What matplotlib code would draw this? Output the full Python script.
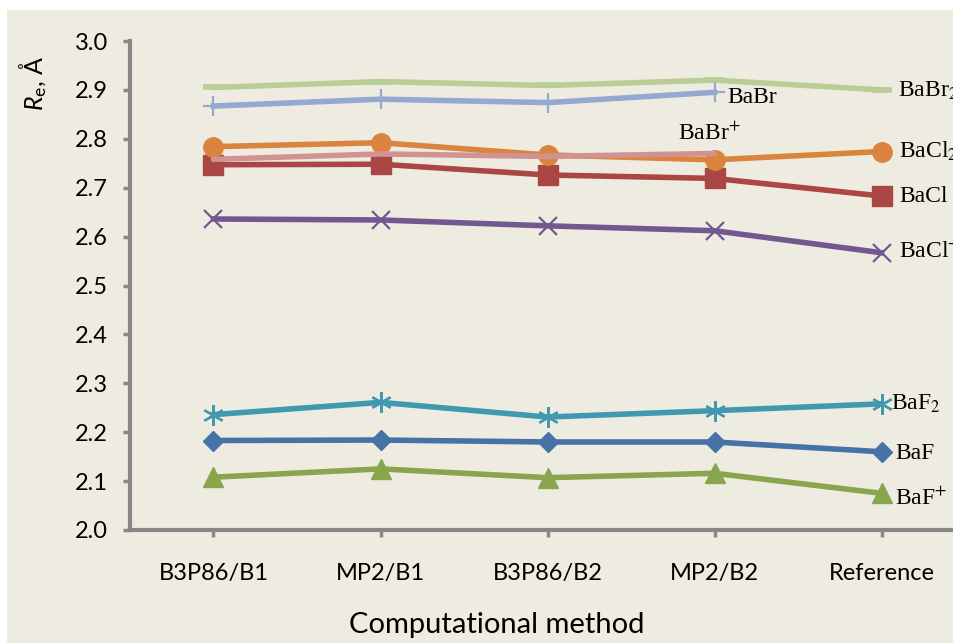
import matplotlib
matplotlib.use("Agg")
import matplotlib.pyplot as plt
from matplotlib.patches import Rectangle

# ---- data -------------------------------------------------------------
methods = ["B3P86/B1", "MP2/B1", "B3P86/B2", "MP2/B2", "Reference"]
y_ticks = [2.0, 2.1, 2.2, 2.3, 2.4, 2.5, 2.6, 2.7, 2.8, 2.9, 3.0]

re_BaF = [2.183, 2.184, 2.180, 2.180, 2.160]
re_BaF_plus = [2.108, 2.125, 2.107, 2.116, 2.075]
re_BaF2 = [2.236, 2.261, 2.231, 2.244, 2.258]
re_BaCl = [2.747, 2.748, 2.726, 2.719, 2.683]
re_BaCl_plus = [2.636, 2.634, 2.622, 2.612, 2.567]
re_BaCl2 = [2.784, 2.792, 2.767, 2.757, 2.774]
re_BaBr = [2.867, 2.881, 2.874, 2.895]
re_BaBr2 = [2.905, 2.917, 2.909, 2.920, 2.900]
re_BaBr_plus = [2.758, 2.769, 2.764, 2.770]

# ---- fonts ------------------------------------------------------------
plt.rcParams["font.family"] = ["Lato", "DejaVu Sans"]
plt.rcParams["mathtext.fontset"] = "custom"
plt.rcParams["mathtext.rm"] = "Lato"
plt.rcParams["mathtext.it"] = "Lato:italic"
plt.rcParams["mathtext.bf"] = "Lato:bold"

W, H = 954, 643
fig = plt.figure(figsize=(W / 100, H / 100), dpi=100)
fig.patch.set_facecolor("white")
fig.patches.append(Rectangle((7 / W, 0), 1, (H - 10) / H, transform=fig.transFigure,
                             facecolor="#EEECE1", edgecolor="none", zorder=-10))

ax = fig.add_axes([130 / W, 113 / H, 835 / W, 489 / H])
ax.set_zorder(1)
ax.set_facecolor("none")
ax.set_xlim(-0.5, 4.5)
ax.set_ylim(2.0, 3.0)

lw = 4.0
x5 = list(range(len(methods)))
x4 = x5[:4]

ax.plot(x5, re_BaF, color="#4572A7", lw=lw, marker="D", ms=10.5, mec="#4572A7")
ax.plot(x5, re_BaF_plus, color="#89A54E", lw=lw, marker="^", ms=14.5, mec="#89A54E")
ax.plot(x5, re_BaF2, color="#4198AF", lw=lw, marker=(6, 2, 0), ms=15, mew=1.6,
        mec="#4198AF")
ax.plot(x5, re_BaCl, color="#AA4643", lw=lw, marker="s", ms=14, mec="#AA4643")
ax.plot(x5, re_BaCl_plus, color="#71588F", lw=lw, marker="x", ms=13.5, mew=1.6,
        mec="#71588F")
ax.plot(x5, re_BaCl2, color="#DB843D", lw=lw, marker="o", ms=14, mec="#DB843D")
ax.plot(x4, re_BaBr, color="#93A9CF", lw=lw, marker="+", ms=14, mew=1.6,
        mec="#93A9CF")
ax.plot(x5, re_BaBr2, color="#B9CD96", lw=lw, marker="_", ms=14, mew=lw,
        mec="#B9CD96")
ax.plot(x4, re_BaBr_plus, color="#D19392", lw=lw, solid_capstyle="round")

# ---- series labels ----------------------------------------------------
lab = dict(fontsize=17, family="Liberation Serif", math_fontfamily="stix",
           textcoords="offset points", va="center", ha="left", annotation_clip=False)
ax.annotate(r"BaBr$_2$", (4, re_BaBr2[4]), xytext=(12, -0.5), **lab)
ax.annotate(r"BaCl$_2$", (4, re_BaCl2[4]), xytext=(12.5, 0), **lab)
ax.annotate("BaCl", (4, re_BaCl[4]), xytext=(12.5, 0), **lab)
ax.annotate(r"BaCl$^{+}$", (4, re_BaCl_plus[4]), xytext=(12.5, 1), **lab)
ax.annotate(r"BaF$_2$", (4, re_BaF2[4]), xytext=(7, 0), **lab)
ax.annotate("BaF", (4, re_BaF[4]), xytext=(10, -1), **lab)
ax.annotate(r"BaF$^{+}$", (4, re_BaF_plus[4]), xytext=(9.5, -4), **lab)
ax.annotate("BaBr", (3, re_BaBr[3]), xytext=(9, -4), **lab)
lab_c = dict(lab, ha="center")
ax.annotate(r"BaBr$^{+}$", (3, re_BaBr_plus[3]), xytext=(-4, 14), **lab_c)

# ---- axes styling -----------------------------------------------------
for side in ("top", "right"):
    ax.spines[side].set_visible(False)
for side in ("left", "bottom"):
    ax.spines[side].set_color("#878787")
    ax.spines[side].set_linewidth(3.0)

ax.set_xticks(x5)
ax.set_xticklabels(methods)
ax.set_yticks(y_ticks)
ax.set_yticklabels([f"{v:.1f}" for v in y_ticks])
ax.tick_params(axis="both", colors="#878787", width=2.5, length=5, labelsize=17,
               labelcolor="black")
ax.tick_params(axis="x", pad=19)
ax.tick_params(axis="y", pad=11)

fig.text(497 / W, 1 - 625 / H, "Computational method", fontsize=21,
         ha="center", va="center")
fig.text(33 / W, 1 - 83 / H, r"$R_{\mathrm{e}}$, Å", fontsize=18, rotation=90,
         ha="center", va="center")

fig.savefig("out.png", dpi=100, facecolor=fig.get_facecolor())
